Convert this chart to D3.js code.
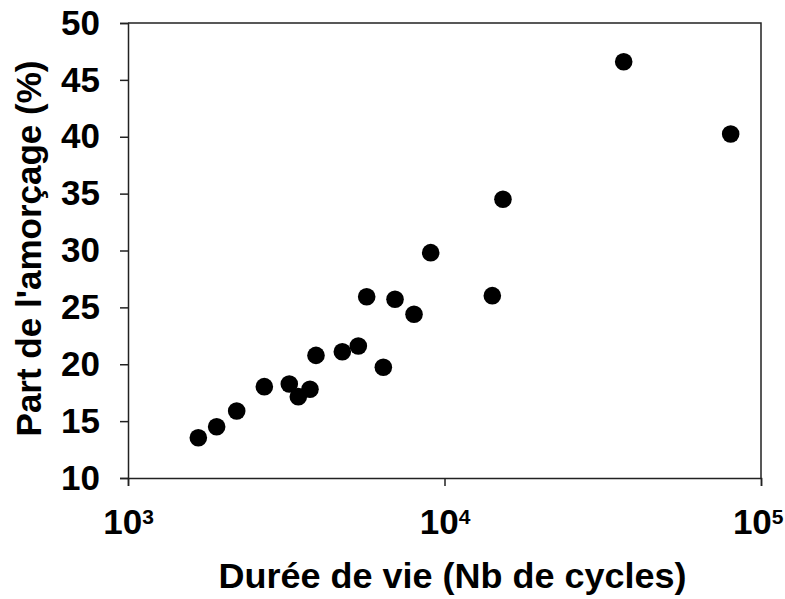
<!DOCTYPE html>
<html>
<head>
<meta charset="utf-8">
<script src="https://cdn.jsdelivr.net/npm/d3@7/dist/d3.min.js"></script>
<style>
  html, body { margin: 0; padding: 0; background: #fff; }
  svg { display: block; }
  text { font-family: "Liberation Sans", Arial, Helvetica, sans-serif; font-weight: bold; fill: #000; }
</style>
</head>
<body>
<svg id="chart" width="785" height="599"></svg>
<script>
// Lifetime (number of cycles) of each specimen
const cycles = [1668, 1906, 2205, 2696, 3233, 3452, 3758, 3926, 4755, 5342,
                5677, 6977, 8011, 6408, 9044, 15300, 36830, 80200, 14160];
// Share of crack initiation in the lifetime (%)
const initiation = [13.54, 14.51, 15.89, 18.03, 18.26, 17.15, 17.8, 20.78, 21.1, 21.6,
                    25.94, 25.71, 24.39, 19.73, 29.81, 34.5, 46.6, 40.24, 26.03];

const yTicks = [10, 15, 20, 25, 30, 35, 40, 45, 50];
const xTicks = [1e3, 1e4, 1e5];
const xTitle = "Durée de vie (Nb de cycles)";
const yTitle = "Part de l'amorçage (%)";

const width = 785, height = 599;
const margin = { top: 23, right: 24, bottom: 121, left: 128 };
const innerW = width - margin.left - margin.right;
const innerH = height - margin.top - margin.bottom;

const svg = d3.select("#chart");
const g = svg.append("g").attr("transform", `translate(${margin.left},${margin.top})`);

const x = d3.scaleLog().domain([1e3, 1e5]).range([0, innerW]);
const y = d3.scaleLinear().domain([10, 50]).range([innerH, 0]);

const axisColor = "#222";

// Plot-area frame (top and right sides)
g.append("path")
  .attr("d", `M0,0H${innerW}V${innerH}`)
  .attr("fill", "none")
  .attr("stroke", axisColor)
  .attr("stroke-width", 1.5);

// Y axis
const yAxis = g.append("g")
  .call(d3.axisLeft(y).tickValues(yTicks).tickSize(8).tickPadding(20).tickFormat(d3.format("d")));
yAxis.selectAll("path.domain, line").attr("stroke", axisColor).attr("stroke-width", 1.5);
yAxis.selectAll("text").attr("font-size", 35).attr("font-family", null);

// X axis (log scale, powers of ten)
const xAxis = g.append("g")
  .attr("transform", `translate(0,${innerH})`)
  .call(d3.axisBottom(x).tickValues(xTicks).tickSize(8).tickPadding(23));
xAxis.selectAll("path.domain, line").attr("stroke", axisColor).attr("stroke-width", 1.5);
xAxis.selectAll("text")
  .attr("font-family", null)
  .attr("font-size", 35)
  .each(function(d, i, nodes) {
    const t = d3.select(this).text("");
    // keep the last label inside the page edge
    if (i === nodes.length - 1) t.attr("text-anchor", "end").attr("x", 22);
    t.append("tspan").text("10");
    t.append("tspan").attr("font-size", 21).attr("dy", "-10").text(Math.round(Math.log10(d)));
  });

// Data points
g.append("g")
  .selectAll("circle")
  .data(cycles.map((c, i) => [c, initiation[i]]))
  .join("circle")
  .attr("cx", d => x(d[0]))
  .attr("cy", d => y(d[1]))
  .attr("r", 8.8)
  .attr("fill", "#000");

// Axis titles
svg.append("text")
  .attr("x", margin.left + innerW / 2 + 8)
  .attr("y", 588)
  .attr("text-anchor", "middle")
  .attr("font-size", 35)
  .attr("textLength", 468)
  .attr("lengthAdjust", "spacingAndGlyphs")
  .text(xTitle);

svg.append("text")
  .attr("transform", `translate(41,${margin.top + innerH / 2 - 2}) rotate(-90)`)
  .attr("text-anchor", "middle")
  .attr("font-size", 35)
  .text(yTitle);
</script>
</body>
</html>
